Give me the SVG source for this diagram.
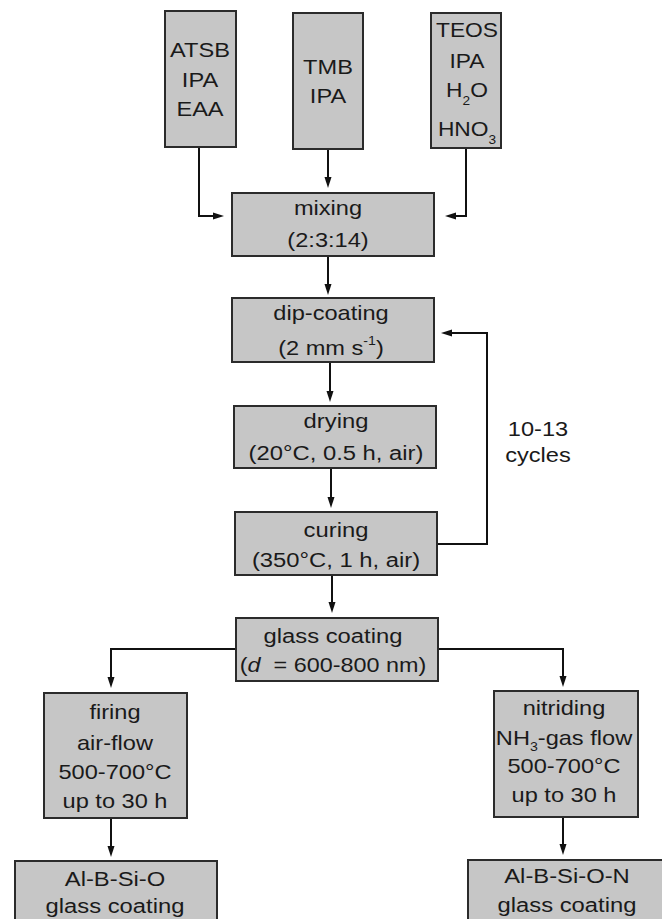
<svg xmlns="http://www.w3.org/2000/svg" width="662" height="919" viewBox="0 0 662 919">
<style>
.box{fill:#c6c6c6;stroke:#2b2b2b;stroke-width:2}
.t{font-family:"Liberation Sans",Arial,sans-serif;font-size:20px;fill:#1a1a1a;text-anchor:middle}
.s{font-size:12px}
.c{fill:none;stroke:#111;stroke-width:2}
</style>
<defs>
<marker id="ah" markerWidth="11" markerHeight="8" refX="5" refY="4" orient="auto" markerUnits="userSpaceOnUse">
<path d="M0,0.5 L11,4 L0,7.5 z" fill="#111"/>
</marker>
</defs>
<rect width="662" height="919" fill="#fff"/>
<g id="connectors">
<path class="c" d="M199,147 V216 H218" marker-end="url(#ah)"/>
<path class="c" d="M328,149 V182" marker-end="url(#ah)"/>
<path class="c" d="M466,148 V216 H451" marker-end="url(#ah)"/>
<path class="c" d="M328,256 V289" marker-end="url(#ah)"/>
<path class="c" d="M330,362 V396" marker-end="url(#ah)"/>
<path class="c" d="M331,468 V502" marker-end="url(#ah)"/>
<path class="c" d="M332,575 V607" marker-end="url(#ah)"/>
<path class="c" d="M437,544 H487 V333 H447" marker-end="url(#ah)"/>
<path class="c" d="M236,649 H111 V682" marker-end="url(#ah)"/>
<path class="c" d="M438,649 H563 V681" marker-end="url(#ah)"/>
<path class="c" d="M111,818 V851" marker-end="url(#ah)"/>
<path class="c" d="M563,817 V849" marker-end="url(#ah)"/>
</g>
<g id="atsb">
<rect class="box" x="165" y="11" width="71" height="136"/>
<text class="t" transform="translate(200,57) scale(1.18,1)">ATSB</text>
<text class="t" transform="translate(200,87) scale(1.18,1)">IPA</text>
<text class="t" transform="translate(200,116) scale(1.18,1)">EAA</text>
</g>
<g id="tmb">
<rect class="box" x="293" y="13" width="70" height="136"/>
<text class="t" transform="translate(328,74) scale(1.18,1)">TMB</text>
<text class="t" transform="translate(328,103) scale(1.18,1)">IPA</text>
</g>
<g id="teos">
<rect class="box" x="431" y="13" width="70" height="135"/>
<text class="t" transform="translate(467,37) scale(1.14,1)">TEOS</text>
<text class="t" transform="translate(467,68) scale(1.14,1)">IPA</text>
<text class="t" transform="translate(467,97) scale(1.14,1)">H<tspan class="s" dy="8">2</tspan><tspan dy="-8">O</tspan></text>
<text class="t" transform="translate(467,136) scale(1.14,1)">HNO<tspan class="s" dy="8">3</tspan></text>
</g>
<g id="mixing">
<rect class="box" x="232" y="193" width="202" height="63"/>
<text class="t" transform="translate(328,215) scale(1.18,1)">mixing</text>
<text class="t" transform="translate(328,247) scale(1.18,1)">(2:3:14)</text>
</g>
<g id="dipcoating">
<rect class="box" x="232" y="298" width="202" height="64"/>
<text class="t" transform="translate(331,320) scale(1.18,1)">dip-coating</text>
<text class="t" transform="translate(331,355) scale(1.18,1)">(2 mm s<tspan class="s" dy="-10">-1</tspan><tspan dy="10">)</tspan></text>
</g>
<g id="drying">
<rect class="box" x="234" y="406" width="202" height="62"/>
<text class="t" transform="translate(336,428) scale(1.19,1)">drying</text>
<text class="t" transform="translate(336,460) scale(1.19,1)">(20°C, 0.5 h, air)</text>
</g>
<g id="curing">
<rect class="box" x="235" y="512" width="202" height="63"/>
<text class="t" transform="translate(336,537) scale(1.19,1)">curing</text>
<text class="t" transform="translate(336,567) scale(1.19,1)">(350°C, 1 h, air)</text>
</g>
<g id="cycles">
<text class="t" transform="translate(538,436) scale(1.18,1)">10-13</text>
<text class="t" transform="translate(538,462) scale(1.18,1)">cycles</text>
</g>
<g id="glasscoating">
<rect class="box" x="236" y="618" width="202" height="63"/>
<text class="t" transform="translate(333,643) scale(1.19,1)">glass coating</text>
<text class="t" transform="translate(333,672) scale(1.17,1)">(<tspan font-style="italic">d</tspan>&#160; = 600-800 nm)</text>
</g>
<g id="firing">
<rect class="box" x="44" y="693" width="143" height="125"/>
<text class="t" transform="translate(115,719) scale(1.18,1)">firing</text>
<text class="t" transform="translate(115,750) scale(1.18,1)">air-flow</text>
<text class="t" transform="translate(115,779) scale(1.18,1)">500-700°C</text>
<text class="t" transform="translate(115,808) scale(1.18,1)">up to 30 h</text>
</g>
<g id="nitriding">
<rect class="box" x="494" y="691" width="144" height="126"/>
<text class="t" transform="translate(564,715) scale(1.18,1)">nitriding</text>
<text class="t" transform="translate(564,745) scale(1.18,1)">NH<tspan class="s" dy="6">3</tspan><tspan dy="-6">-gas flow</tspan></text>
<text class="t" transform="translate(564,773) scale(1.18,1)">500-700°C</text>
<text class="t" transform="translate(564,802) scale(1.18,1)">up to 30 h</text>
</g>
<g id="albsio">
<rect class="box" x="15" y="861" width="202" height="80"/>
<text class="t" transform="translate(115,886) scale(1.19,1)">Al-B-Si-O</text>
<text class="t" transform="translate(115,913) scale(1.19,1)">glass coating</text>
</g>
<g id="albsion">
<rect class="box" x="468" y="860" width="202" height="80"/>
<text class="t" transform="translate(567,883) scale(1.19,1)">Al-B-Si-O-N</text>
<text class="t" transform="translate(567,912) scale(1.19,1)">glass coating</text>
</g>
</svg>
